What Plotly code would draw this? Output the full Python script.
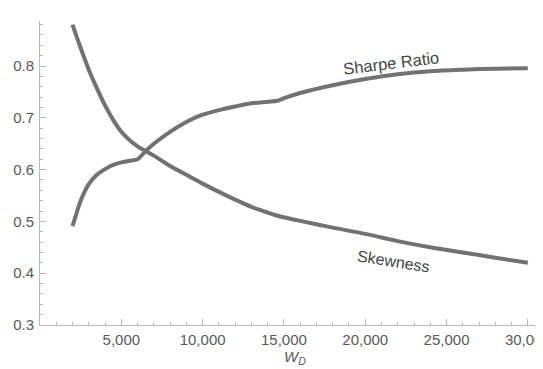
import plotly.graph_objects as go

# Data
wd = [2000, 2250, 2500, 3000, 3500, 4000, 4500, 5000, 5500, 6000, 6500, 7000, 8000, 9000,
      10000, 11000, 12000, 13000, 14000, 14600, 15000, 16000, 18000, 20000, 22000,
      24000, 26000, 28000, 30000]
skewness = [0.880, 0.857, 0.835, 0.793, 0.757, 0.724, 0.696, 0.673, 0.657, 0.645, 0.636,
            0.627, 0.607, 0.590, 0.573, 0.557, 0.542, 0.528, 0.517, 0.511, 0.508, 0.501,
            0.488, 0.476, 0.462, 0.450, 0.440, 0.430, 0.420]
sharpe = [0.491, 0.516, 0.540, 0.572, 0.590, 0.601, 0.609, 0.614, 0.617, 0.620, 0.636,
          0.650, 0.673, 0.692, 0.706, 0.715, 0.722, 0.728, 0.731, 0.733, 0.738, 0.748,
          0.763, 0.775, 0.784, 0.790, 0.793, 0.795, 0.796]
x_ticks = [5000, 10000, 15000, 20000, 25000, 30000]
x_tick_labels = ["5,000", "10,000", "15,000", "20,000", "25,000", "30,000"]
y_ticks = [0.3, 0.4, 0.5, 0.6, 0.7, 0.8]
y_tick_labels = ["0.3", "0.4", "0.5", "0.6", "0.7", "0.8"]

LINE = "#727272"
AX = "#b8b8b8"
TXT = "#5a5a5a"
FONT = "Liberation Sans, Arial, Helvetica, sans-serif"

fig = go.Figure()
fig.add_trace(go.Scatter(x=wd, y=sharpe, mode="lines",
                         line=dict(color=LINE, width=4, shape="spline", smoothing=0.8),
                         showlegend=False, hoverinfo="skip"))
fig.add_trace(go.Scatter(x=wd, y=skewness, mode="lines",
                         line=dict(color=LINE, width=4, shape="spline", smoothing=0.8),
                         showlegend=False, hoverinfo="skip"))

fig.add_annotation(x=21570, y=0.806, text="Sharpe Ratio", showarrow=False,
                   textangle=-7, font=dict(family=FONT, size=16.5, color="#454545"))
fig.add_annotation(x=21760, y=0.4235, text="Skewness", showarrow=False,
                   textangle=9, font=dict(family=FONT, size=16, color="#454545"))
# axis title
fig.add_annotation(x=0.5, y=0, xref="paper", yref="paper", xanchor="center",
                   yanchor="top", yshift=-21, showarrow=False,
                   text="<i>W</i><sub><i>D</i></sub>",
                   font=dict(family=FONT, size=15, color=TXT))

fig.update_layout(
    width=543, height=369,
    margin=dict(l=32, r=2, t=13, b=52),
    paper_bgcolor="white", plot_bgcolor="white",
    font=dict(family=FONT, color=TXT, size=15),
)
fig.update_xaxes(
    range=[0, 31300], showgrid=False, zeroline=False,
    showline=True, linecolor=AX, linewidth=1,
    tickmode="array", tickvals=x_ticks, ticktext=x_tick_labels,
    ticks="inside", ticklen=6, tickcolor=AX, tickwidth=1,
    minor=dict(tickmode="linear", tick0=0, dtick=1000, ticks="inside",
               ticklen=3, tickcolor=AX, tickwidth=1, showgrid=False),
    tickfont=dict(size=15, color=TXT),
    ticklabelstandoff=1,
    ticklabeloverflow="allow",
    automargin=False,
)
fig.update_yaxes(
    range=[0.3, 0.887], showgrid=False, zeroline=False,
    showline=True, linecolor=AX, linewidth=1,
    tickmode="array", tickvals=y_ticks, ticktext=y_tick_labels,
    ticks="inside", ticklen=6, tickcolor=AX, tickwidth=1,
    minor=dict(tickmode="linear", tick0=0.3, dtick=0.02, ticks="inside",
               ticklen=3, tickcolor=AX, tickwidth=1, showgrid=False),
    tickfont=dict(size=15, color=TXT),
    ticklabelstandoff=2,
    ticklabeloverflow="allow",
    automargin=False,
)

fig.write_html("out.html")
